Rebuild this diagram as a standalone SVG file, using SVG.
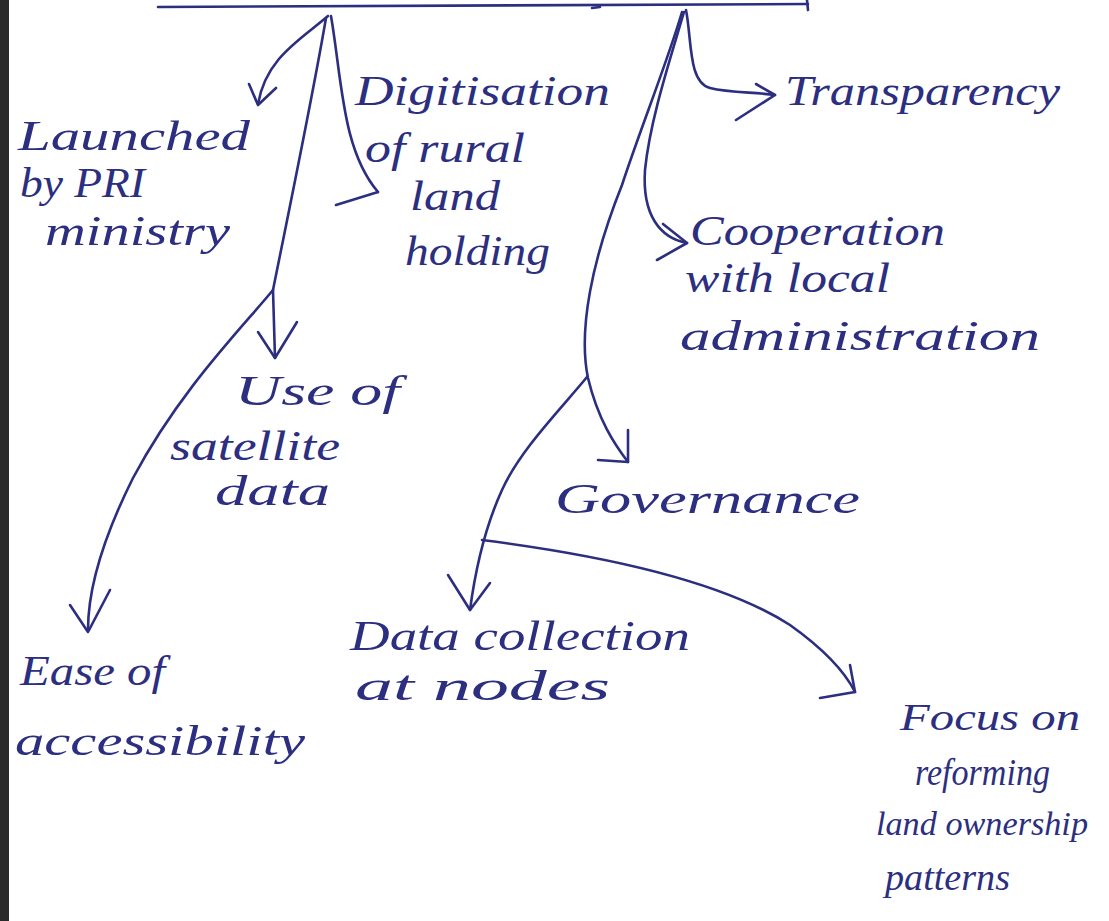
<svg xmlns="http://www.w3.org/2000/svg" width="1109" height="921" viewBox="0 0 1109 921">
<style>
.ink{fill:none;stroke:#2c2e80;stroke-width:2.6;stroke-linecap:round;stroke-linejoin:round}
.t{font-family:"Liberation Serif","DejaVu Serif",serif;font-style:italic;font-size:42px;fill:#2c2e80}
.s{font-size:38px}
.xs{font-size:33px}
</style>
<rect width="1109" height="921" fill="#ffffff"/>
<rect x="0" y="0" width="9" height="921" fill="#2a2a2a"/>
<g id="connectors">
  <path class="ink" d="M158,7 L808,4"/>
  <path class="ink" d="M807,0 L808,10"/>
  <path class="ink" d="M592,8 L600,7"/>
  <!-- Launched -->
  <path class="ink" d="M328,16 C 300,40 266,58 258,104"/>
  <path class="ink" d="M249,84 L258,105 L276,88"/>
  <!-- Digitisation -->
  <path class="ink" d="M331,16 C 342,80 342,150 378,192"/>
  <path class="ink" d="M336,205 L378,192"/>
  <!-- Use of satellite data -->
  <path class="ink" d="M326,18 C 312,100 287,220 273,290 L275,358"/>
  <path class="ink" d="M258,332 L275,358 L297,322"/>
  <!-- Ease of accessibility -->
  <path class="ink" d="M273,290 C 240,330 180,390 133,478 C 102,540 88,590 88,630"/>
  <path class="ink" d="M70,605 L88,632 L110,590"/>
  <!-- Transparency -->
  <path class="ink" d="M686,10 C 692,40 688,82 710,88 C 730,93 755,92 775,95"/>
  <path class="ink" d="M756,84 L775,95 L736,120"/>
  <!-- Cooperation -->
  <path class="ink" d="M684,12 C 670,60 650,120 645,170 C 642,215 660,238 687,243"/>
  <path class="ink" d="M663,224 L687,243 L657,260"/>
  <!-- Governance -->
  <path class="ink" d="M682,12 C 668,60 640,130 622,185 C 592,260 578,330 588,378 C 598,420 615,445 628,462"/>
  <path class="ink" d="M628,430 L628,462 L598,460"/>
  <!-- Data collection -->
  <path class="ink" d="M587,377 C 560,410 520,450 502,490 C 486,525 476,565 470,610"/>
  <path class="ink" d="M448,575 L470,610 L490,583"/>
  <!-- Focus -->
  <path class="ink" d="M482,540 C 600,555 720,580 790,625 C 825,650 845,672 855,692"/>
  <path class="ink" d="M850,665 L855,692 L820,698"/>
</g>
<g id="launched">
  <text class="t" x="18" y="150" textLength="232" lengthAdjust="spacingAndGlyphs">Launched</text>
  <text class="t" x="20" y="197" textLength="125" lengthAdjust="spacingAndGlyphs">by PRI</text>
  <text class="t" x="45" y="245" textLength="185" lengthAdjust="spacingAndGlyphs">ministry</text>
</g>
<g id="digitisation">
  <text class="t" x="355" y="105" textLength="255" lengthAdjust="spacingAndGlyphs">Digitisation</text>
  <text class="t" x="365" y="162" textLength="160" lengthAdjust="spacingAndGlyphs">of rural</text>
  <text class="t" x="410" y="210" textLength="90" lengthAdjust="spacingAndGlyphs">land</text>
  <text class="t" x="405" y="265" textLength="145" lengthAdjust="spacingAndGlyphs">holding</text>
</g>
<g id="transparency">
  <text class="t" x="785" y="105" textLength="275" lengthAdjust="spacingAndGlyphs">Transparency</text>
</g>
<g id="cooperation">
  <text class="t" x="690" y="245" textLength="255" lengthAdjust="spacingAndGlyphs">Cooperation</text>
  <text class="t" x="685" y="292" textLength="205" lengthAdjust="spacingAndGlyphs">with local</text>
  <text class="t" x="680" y="350" textLength="360" lengthAdjust="spacingAndGlyphs">administration</text>
</g>
<g id="satellite">
  <text class="t" x="235" y="405" textLength="165" lengthAdjust="spacingAndGlyphs">Use of</text>
  <text class="t" x="170" y="460" textLength="170" lengthAdjust="spacingAndGlyphs">satellite</text>
  <text class="t" x="215" y="505" textLength="115" lengthAdjust="spacingAndGlyphs">data</text>
</g>
<g id="governance">
  <text class="t" x="555" y="513" textLength="305" lengthAdjust="spacingAndGlyphs">Governance</text>
</g>
<g id="datacollection">
  <text class="t" x="350" y="650" textLength="340" lengthAdjust="spacingAndGlyphs">Data collection</text>
  <text class="t" x="355" y="700" textLength="255" lengthAdjust="spacingAndGlyphs">at nodes</text>
</g>
<g id="ease">
  <text class="t" x="20" y="685" textLength="145" lengthAdjust="spacingAndGlyphs">Ease of</text>
  <text class="t" x="15" y="755" textLength="290" lengthAdjust="spacingAndGlyphs">accessibility</text>
</g>
<g id="focus">
  <text class="t s" x="900" y="730" textLength="180" lengthAdjust="spacingAndGlyphs">Focus on</text>
  <text class="t s" x="915" y="785" textLength="135" lengthAdjust="spacingAndGlyphs">reforming</text>
  <text class="t xs" x="876" y="835" textLength="212" lengthAdjust="spacingAndGlyphs">land ownership</text>
  <text class="t s" x="885" y="890" textLength="125" lengthAdjust="spacingAndGlyphs">patterns</text>
</g>
</svg>
